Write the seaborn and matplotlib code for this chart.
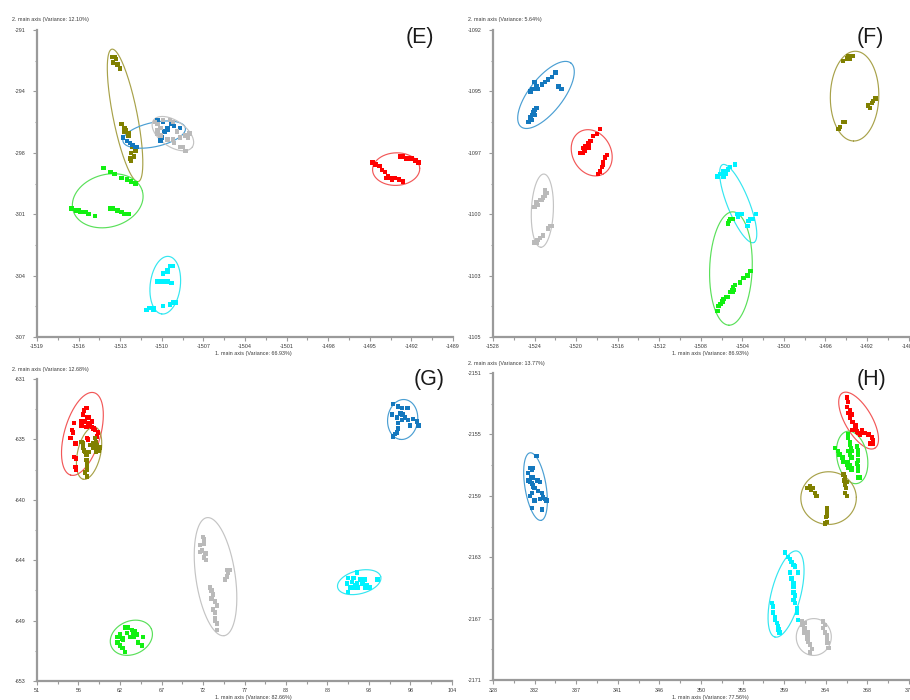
import numpy as np
import pandas as pd
import matplotlib
matplotlib.use("Agg")
import matplotlib.pyplot as plt
import seaborn as sns

# ---------------- panel E ----------------
e_olive_x = [-1513.6, -1513.4, -1513.3, -1513.5, -1513.2, -1513.0, -1512.9, -1512.7, -1512.6, -1512.4,
             -1512.7, -1512.4, -1512.2, -1512.1, -1512.0, -1512.3, -1512.2, -1511.9]
e_olive_y = [-292.4, -292.4, -292.5, -292.7, -292.8, -293.0, -295.9, -296.1, -296.2, -296.4,
             -296.3, -296.5, -297.4, -297.1, -297.6, -297.7, -297.8, -297.3]
e_blue_x = [-1512.8, -1512.5, -1512.3, -1512.1, -1511.9, -1511.8, -1510.3, -1509.9, -1509.6, -1509.3,
            -1509.1, -1508.7, -1509.8, -1510.0, -1510.1, -1509.6, -1510.1]
e_blue_y = [-296.6, -296.8, -296.9, -297.0, -297.1, -297.1, -295.7, -295.8, -296.1, -295.9,
            -296.0, -296.1, -296.3, -296.6, -296.8, -296.2, -296.6]
e_gray_x = [-1510.5, -1510.3, -1510.3, -1510.1, -1509.9, -1509.4, -1509.2, -1508.9, -1508.7, -1508.3,
            -1508.1, -1509.1, -1508.7, -1508.5, -1508.3, -1510.3, -1510.1, -1509.6, -1509.2, -1508.0]
e_gray_y = [-295.8, -295.9, -296.2, -296.1, -295.7, -295.7, -295.8, -296.3, -296.6, -296.5,
            -296.6, -296.9, -297.1, -297.1, -297.3, -296.4, -296.5, -296.7, -296.7, -296.4]
e_red_x = [-1494.8, -1494.6, -1494.3, -1494.1, -1493.9, -1493.7, -1493.5, -1493.2, -1492.9, -1492.6,
           -1492.8, -1492.6, -1492.4, -1492.2, -1492.0, -1491.7, -1491.5, -1493.8, -1493.4]
e_red_y = [-297.9, -298.0, -298.1, -298.3, -298.4, -298.6, -298.7, -298.7, -298.8, -298.9,
           -297.6, -297.6, -297.7, -297.7, -297.7, -297.8, -297.9, -298.7, -298.8]
e_green_x = [-1514.2, -1513.7, -1513.4, -1512.9, -1512.5, -1512.2, -1511.9, -1516.5, -1516.2, -1516.0,
             -1515.8, -1515.5, -1515.3, -1514.8, -1513.7, -1513.5, -1513.2, -1512.9, -1512.7, -1512.4, -1515.9]
e_green_y = [-298.2, -298.4, -298.5, -298.7, -298.8, -298.9, -299.0, -300.3, -300.4, -300.4,
             -300.5, -300.5, -300.6, -300.7, -300.3, -300.3, -300.4, -300.5, -300.6, -300.6, -300.5]
e_cyan_x = [-1509.4, -1509.2, -1509.6, -1509.6, -1509.9, -1510.3, -1510.1, -1509.8, -1509.6, -1509.3,
            -1511.1, -1510.9, -1510.6, -1510.6, -1509.9, -1509.4, -1509.2, -1509.0]
e_cyan_y = [-303.3, -303.3, -303.5, -303.6, -303.7, -304.1, -304.1, -304.1, -304.1, -304.2,
            -305.6, -305.5, -305.5, -305.6, -305.4, -305.3, -305.2, -305.2]
# confidence ellipses: major-axis end points and minor/major ratio
e_rings = {
    "olive": ((-1513.6, -292.0), (-1511.7, -298.9), 0.18),
    "blue": ((-1512.8, -296.8), (-1508.3, -296.1), 0.38),
    "gray": ((-1510.6, -295.7), (-1507.8, -297.1), 0.55),
    "red": ((-1494.8, -298.3), (-1491.4, -298.2), 0.69),
    "green": ((-1516.4, -300.4), (-1511.4, -299.4), 0.73),
    "cyan": ((-1509.5, -302.8), (-1510.0, -305.8), 0.52),
}
e_xticklabels = ["-1519", "-1516", "-1513", "-1510", "-1507", "-1504", "-1501", "-1498", "-1495", "-1492", "-1489"]
e_yticklabels = ["-291", "-294", "-298", "-301", "-304", "-307"]

# ---------------- panel F ----------------
f_blue_x = [-1524.4, -1524.2, -1524.0, -1523.8, -1523.7, -1523.3, -1523.0, -1522.7, -1522.3, -1522.0,
            -1521.7, -1521.4, -1524.4, -1524.2, -1524.1, -1524.0, -1523.8, -1524.6, -1524.3, -1524.0]
f_blue_y = [-1094.6, -1094.5, -1094.2, -1094.4, -1094.5, -1094.3, -1094.2, -1094.1, -1094.0, -1093.8,
            -1094.4, -1094.5, -1095.7, -1095.6, -1095.5, -1095.4, -1095.3, -1095.9, -1095.8, -1095.6]
f_red_x = [-1517.7, -1518.0, -1518.4, -1518.6, -1518.9, -1519.3, -1519.4, -1519.6, -1519.1, -1518.8,
           -1519.2, -1518.8, -1517.0, -1517.2, -1517.4, -1517.4, -1517.5, -1517.7, -1517.9]
f_red_y = [-1096.2, -1096.4, -1096.5, -1096.7, -1097.0, -1097.0, -1097.2, -1097.2, -1096.9, -1096.8,
           -1097.1, -1097.0, -1097.3, -1097.4, -1097.6, -1097.7, -1097.8, -1098.0, -1098.1]
f_gray_x = [-1522.8, -1523.0, -1523.2, -1523.5, -1523.8, -1524.0, -1523.7, -1523.3, -1522.5, -1522.3,
            -1522.7, -1523.2, -1523.5, -1523.8, -1524.0, -1523.7, -1523.0]
f_gray_y = [-1098.9, -1099.0, -1099.1, -1099.2, -1099.3, -1099.5, -1099.4, -1099.2, -1100.3, -1100.3,
            -1100.4, -1100.7, -1100.8, -1101.0, -1101.0, -1100.9, -1098.8]
f_olive_x = [-1494.3, -1493.9, -1493.8, -1493.6, -1493.4, -1491.7, -1491.5, -1491.4, -1491.2, -1491.9,
             -1494.8, -1494.6, -1494.3, -1494.1, -1494.7, -1493.7]
f_olive_y = [-1093.3, -1093.2, -1093.1, -1093.1, -1093.1, -1095.3, -1095.1, -1095.0, -1094.9, -1095.2,
             -1096.2, -1096.1, -1095.9, -1095.9, -1096.2, -1093.2]
f_cyan_x = [-1506.4, -1506.1, -1505.8, -1505.4, -1505.2, -1504.7, -1505.6, -1505.8, -1504.5, -1504.4,
            -1503.4, -1503.2, -1503.0, -1502.7, -1503.5, -1504.1]
f_cyan_y = [-1098.2, -1098.1, -1098.0, -1097.9, -1097.8, -1097.7, -1098.1, -1098.2, -1099.8, -1099.9,
            -1100.1, -1100.0, -1100.0, -1099.8, -1100.3, -1099.8]
f_green_x = [-1505.4, -1505.3, -1505.2, -1505.0, -1504.9, -1506.4, -1506.3, -1506.1, -1505.9, -1505.8,
             -1505.6, -1505.4, -1505.2, -1505.0, -1504.9, -1504.7, -1504.2, -1503.9, -1503.5, -1503.2,
             -1504.8, -1504.9]
f_green_y = [-1100.2, -1100.1, -1100.0, -1100.0, -1100.0, -1103.9, -1103.7, -1103.6, -1103.5, -1103.4,
             -1103.3, -1103.3, -1103.1, -1103.0, -1102.9, -1102.8, -1102.7, -1102.5, -1102.4, -1102.2,
             -1103.0, -1103.1]
f_rings = {
    "blue": ((-1525.3, -1096.1), (-1520.5, -1093.4), 0.42),
    "red": ((-1519.6, -1096.3), (-1517.4, -1098.1), 0.80),
    "gray": ((-1523.1, -1098.1), (-1523.4, -1101.2), 0.30),
    "olive": ((-1493.1, -1092.9), (-1493.3, -1096.7), 0.54),
    "cyan": ((-1505.9, -1097.7), (-1502.9, -1101.0), 0.26),
    "green": ((-1504.9, -1099.7), (-1505.3, -1104.5), 0.375),
}
f_xticklabels = ["-1528", "-1524", "-1520", "-1516", "-1512", "-1508", "-1504", "-1500", "-1496", "-1492", "-1488"]
f_yticklabels = ["-1092", "-1095", "-1097", "-1100", "-1103", "-1105"]

# ---------------- panel G ----------------
g_red_x = [57.3, 56.9, 57.4, 57.6, 56.6, 57.1, 57.5, 57.8, 58.0, 58.2, 58.4, 55.7, 55.5, 55.6, 55.3,
           55.9, 57.5, 57.4, 55.7, 56.0, 55.9, 56.0, 56.7, 57.3, 58.0, 58.8, 58.7, 57.0]
g_red_y = [-633.1, -633.6, -633.8, -633.8, -634.1, -634.1, -634.2, -634.4, -634.5, -634.6, -634.7,
           -634.2, -634.7, -634.9, -635.3, -635.7, -635.4, -635.3, -636.7, -636.8, -637.4, -637.6,
           -634.4, -634.5, -634.1, -634.9, -635.2, -633.3]
g_olive_x = [56.9, 56.9, 57.0, 57.1, 57.3, 57.3, 57.4, 57.4, 57.4, 57.1, 57.4, 56.7, 58.4, 58.5, 58.7,
             58.8, 58.7, 58.9, 59.0, 58.2, 57.8, 57.6, 58.2, 58.5]
g_olive_y = [-635.7, -636.0, -636.2, -636.3, -636.5, -636.9, -637.1, -637.3, -637.6, -637.8, -638.1,
             -635.6, -635.3, -635.6, -635.8, -636.0, -636.2, -636.2, -636.0, -636.0, -635.8, -636.3,
             -635.7, -636.3]
g_blue_x = [96.5, 97.1, 97.6, 98.3, 96.3, 97.0, 97.4, 97.7, 98.0, 98.4, 99.0, 99.5, 99.7, 97.1, 97.6,
            98.6, 97.0, 96.7, 96.5, 97.1]
g_blue_y = [-632.8, -633.0, -633.1, -633.1, -633.6, -633.8, -633.5, -633.6, -633.8, -634.0, -633.9,
            -634.1, -634.4, -634.2, -634.0, -634.4, -634.9, -635.0, -635.2, -634.6]
g_gray_x = [72.2, 72.3, 72.3, 71.8, 72.1, 71.8, 72.5, 72.3, 72.6, 75.3, 75.6, 75.4, 75.3, 75.0, 73.1,
            73.3, 73.5, 73.3, 73.7, 74.0, 73.5, 73.7, 73.7, 74.0, 73.7, 74.0]
g_gray_y = [-642.5, -642.7, -643.0, -643.1, -643.5, -643.6, -643.7, -644.0, -644.2, -644.9, -644.9,
            -645.1, -645.4, -645.6, -646.2, -646.4, -646.7, -647.0, -647.2, -647.5, -647.8, -648.0,
            -648.4, -648.8, -648.6, -649.3]
g_green_x = [62.2, 62.6, 61.6, 61.3, 61.9, 62.0, 61.2, 61.3, 61.6, 61.9, 62.2, 63.1, 63.3, 63.5, 63.8,
             63.3, 64.5, 63.9, 64.4, 62.9, 62.5, 63.4]
g_green_y = [-649.1, -649.1, -649.6, -649.8, -649.9, -650.0, -650.2, -650.2, -650.4, -650.6, -650.9,
             -649.3, -649.5, -649.4, -649.6, -649.8, -649.8, -650.2, -650.4, -649.8, -649.5, -649.5]
g_cyan_x = [91.9, 90.7, 91.4, 92.3, 92.9, 90.6, 91.2, 91.6, 92.5, 93.1, 93.5, 91.0, 91.4, 92.0, 92.9,
            93.3, 90.7, 94.5, 92.6, 91.9]
g_cyan_y = [-645.1, -645.5, -645.5, -645.6, -645.6, -645.9, -645.8, -646.0, -645.9, -646.0, -646.2,
            -646.2, -646.2, -646.2, -646.2, -646.2, -646.5, -645.6, -645.8, -645.9]
g_rings = {
    "red": ((58.3, -632.0), (55.3, -638.0), 0.42),
    "olive": ((58.4, -634.5), (56.9, -638.3), 0.43),
    "blue": ((98.0, -632.5), (97.4, -635.4), 0.75),
    "gray": ((72.7, -641.1), (74.9, -649.7), 0.33),
    "green": ((60.5, -650.5), (65.6, -649.2), 0.76),
    "cyan": ((89.4, -646.2), (94.9, -645.4), 0.52),
}
g_xticklabels = ["51", "56", "62", "67", "72", "77", "83", "88", "93", "98", "104"]
g_yticklabels = ["-631", "-635", "-640", "-644", "-649", "-653"]

# ---------------- panel H ----------------
h_blue_x = [332.7, 332.0, 332.2, 332.3, 331.8, 332.1, 332.3, 331.8, 332.0, 332.2, 332.3, 332.8, 333.1,
            332.3, 332.5, 332.9, 333.3, 333.4, 333.6, 333.8, 333.1, 332.5, 332.2, 333.3, 332.0, 332.2]
h_blue_y = [-2156.4, -2157.2, -2157.3, -2157.2, -2157.5, -2157.8, -2157.8, -2158.0, -2158.1, -2158.2,
            -2158.3, -2158.0, -2158.1, -2158.4, -2158.5, -2158.7, -2158.8, -2159.1, -2159.2, -2159.3,
            -2159.2, -2159.3, -2159.8, -2159.9, -2159.0, -2158.8]
h_red_x = [366.3, 366.4, 366.3, 366.6, 366.4, 366.8, 366.6, 366.9, 367.2, 367.2, 367.4, 367.5, 367.7,
           367.9, 368.2, 368.6, 369.0, 369.1, 369.1, 368.8, 367.9, 366.9]
h_red_y = [-2152.6, -2152.9, -2153.2, -2153.4, -2153.6, -2153.7, -2153.9, -2154.2, -2154.4, -2154.6,
           -2154.8, -2154.9, -2155.0, -2154.9, -2154.9, -2155.0, -2155.2, -2155.4, -2155.6, -2155.6,
           -2154.7, -2154.7]
h_green_x = [366.4, 366.4, 366.6, 366.6, 366.7, 366.8, 366.6, 366.8, 366.4, 366.6, 366.8, 366.4, 367.4,
             367.5, 367.5, 367.5, 367.4, 367.5, 367.5, 367.5, 367.7, 365.0, 365.3, 365.5, 365.8, 365.9,
             366.3, 366.4, 366.8]
h_green_y = [-2155.0, -2155.2, -2155.5, -2155.7, -2155.9, -2156.1, -2156.3, -2156.5, -2156.8, -2157.0,
             -2157.2, -2156.1, -2155.8, -2156.0, -2156.3, -2156.7, -2156.9, -2157.1, -2157.4, -2157.8,
             -2157.8, -2155.9, -2156.1, -2156.3, -2156.5, -2156.8, -2157.0, -2157.2, -2157.3]
h_olive_x = [362.0, 362.3, 362.6, 362.8, 363.0, 365.9, 366.1, 366.3, 366.1, 366.2, 366.1, 366.3, 364.1,
             364.1, 364.1, 364.0, 364.1, 363.9, 362.4, 366.0]
h_olive_y = [-2158.5, -2158.4, -2158.5, -2158.8, -2159.0, -2157.6, -2157.8, -2158.1, -2158.3, -2158.5,
             -2158.8, -2159.0, -2159.8, -2160.1, -2160.3, -2160.4, -2160.7, -2160.8, -2158.6, -2158.0]
h_cyan_x = [359.6, 359.9, 360.1, 360.3, 360.5, 360.7, 361.0, 360.1, 360.3, 360.5, 360.5, 360.5, 360.7,
            360.5, 360.7, 360.9, 360.9, 361.0, 358.2, 358.3, 358.3, 358.5, 358.5, 358.7, 358.8, 358.9,
            359.0]
h_cyan_y = [-2162.7, -2163.0, -2163.1, -2163.3, -2163.5, -2163.6, -2164.0, -2164.0, -2164.4, -2164.7,
            -2164.9, -2165.3, -2165.5, -2165.8, -2166.0, -2166.3, -2166.6, -2167.1, -2166.0, -2166.2,
            -2166.6, -2166.9, -2167.1, -2167.3, -2167.5, -2167.7, -2167.9]
h_gray_x = [361.4, 361.5, 361.7, 361.7, 362.0, 362.0, 362.1, 362.3, 362.5, 362.3, 363.7, 363.9, 363.7,
            363.9, 364.1, 364.1, 364.2, 364.3, 361.7, 362.1]
h_gray_y = [-2167.2, -2167.4, -2167.6, -2167.9, -2168.1, -2168.3, -2168.5, -2168.7, -2169.0, -2169.2,
            -2167.2, -2167.4, -2167.6, -2167.9, -2168.1, -2168.4, -2168.6, -2168.9, -2167.3, -2167.9]
h_rings = {
    "blue": ((332.0, -2156.2), (333.2, -2160.6), 0.31),
    "red": ((365.8, -2152.3), (369.3, -2155.9), 0.42),
    "green": ((366.3, -2154.8), (367.4, -2158.2), 0.57),
    "olive": ((361.3, -2159.2), (367.3, -2159.1), 0.95),
    "cyan": ((360.9, -2162.6), (358.5, -2168.2), 0.33),
    "gray": ((362.8, -2167.0), (362.6, -2169.4), 0.95),
}
h_xticklabels = ["328", "332", "337", "341", "346", "350", "355", "359", "364", "368", "373"]
h_yticklabels = ["-2151", "-2155", "-2159", "-2163", "-2167", "-2171"]

POINT_COLORS = {"olive": "#808000", "blue": "#1478be", "gray": "#bababa",
                "red": "#ff0000", "green": "#12f012", "cyan": "#00f2ff"}
RING_COLORS = {"olive": "#a8a24a", "blue": "#4b9fd3", "gray": "#c4c4c4",
               "red": "#f25858", "green": "#5ae05a", "cyan": "#35e6f0"}
AXIS_GRAY = "#9a9a9a"

sns.set_style("white")
plt.rcParams["font.family"] = ["Liberation Sans", "DejaVu Sans"]

W, H = 910, 700
fig = plt.figure(figsize=(W / 100, H / 100), dpi=100)
fig.patch.set_facecolor("white")


def add_frame(left, top, right, bottom):
    return fig.add_axes([left / W, 1 - bottom / H, (right - left) / W, (bottom - top) / H])


def fig_xy(x, y):
    return x / W, 1 - y / H


def draw_ring(ax, p1, p2, ratio, color):
    tr = ax.transData
    a, b = tr.transform(np.array([p1, p2]))
    c = (a + b) / 2
    u = (b - a) / 2
    v = ratio * np.array([-u[1], u[0]])
    t = np.linspace(0, 2 * np.pi, 361)
    pts = c + np.outer(np.cos(t), u) + np.outer(np.sin(t), v)
    xy = tr.inverted().transform(pts)
    ax.plot(xy[:, 0], xy[:, 1], color=color, lw=0.85, zorder=2, solid_capstyle="round")


def draw_panel(ax, groups, rings, xlim, ylim, xticklabels, yticklabels):
    ax.set_xlim(*xlim)
    ax.set_ylim(*ylim)
    ax.set_autoscale_on(False)

    for name, (p1, p2, ratio) in rings.items():
        draw_ring(ax, p1, p2, ratio, RING_COLORS[name])

    frames = [pd.DataFrame({"x": xs, "y": ys, "group": name}) for name, (xs, ys) in groups.items()]
    df = pd.concat(frames, ignore_index=True)
    sns.scatterplot(data=df, x="x", y="y", hue="group", palette=POINT_COLORS, marker="s",
                    s=10, linewidth=0, legend=False, ax=ax, zorder=3)
    ax.set_xlim(*xlim)
    ax.set_ylim(*ylim)
    ax.set_xlabel("")
    ax.set_ylabel("")

    xmaj = np.linspace(xlim[0], xlim[1], len(xticklabels))
    ymaj = np.linspace(ylim[1], ylim[0], len(yticklabels))
    ax.set_xticks(xmaj)
    ax.set_xticklabels(xticklabels)
    ax.set_yticks(ymaj)
    ax.set_yticklabels(yticklabels)
    ax.set_xticks((xmaj[:-1] + xmaj[1:]) / 2, minor=True)
    ax.set_yticks((ymaj[:-1] + ymaj[1:]) / 2, minor=True)

    for side in ("top", "right"):
        ax.spines[side].set_visible(False)
    for side in ("left", "bottom"):
        ax.spines[side].set_color(AXIS_GRAY)
        ax.spines[side].set_linewidth(1.6)
    ax.tick_params(which="both", bottom=True, left=True, direction="out",
                   color=AXIS_GRAY, width=0.8, labelsize=3.9, labelcolor="#3a3a3a")
    ax.tick_params(which="major", length=2.8)
    ax.tick_params(which="minor", length=1.8)
    ax.tick_params(axis="x", which="major", pad=2.6)
    ax.tick_params(axis="y", which="major", pad=5.5)
    ax.set_facecolor("white")


panels = [
    dict(frame=(37, 30, 453, 337),
         groups={"olive": (e_olive_x, e_olive_y), "blue": (e_blue_x, e_blue_y),
                 "gray": (e_gray_x, e_gray_y), "red": (e_red_x, e_red_y),
                 "green": (e_green_x, e_green_y), "cyan": (e_cyan_x, e_cyan_y)},
         rings=e_rings, xlim=(-1519, -1489), ylim=(-307, -291),
         xt=e_xticklabels, yt=e_yticklabels,
         ylab="2. main axis (Variance: 12.10%)", ylab_at=(12, 20),
         xlab="1. main axis (Variance: 66.93%)", xlab_at=(253, 354),
         tag="(E)", tag_at=(420, 37)),
    dict(frame=(493, 30, 908.6, 337),
         groups={"blue": (f_blue_x, f_blue_y), "red": (f_red_x, f_red_y),
                 "gray": (f_gray_x, f_gray_y), "olive": (f_olive_x, f_olive_y),
                 "cyan": (f_cyan_x, f_cyan_y), "green": (f_green_x, f_green_y)},
         rings=f_rings, xlim=(-1528, -1488), ylim=(-1105, -1092),
         xt=f_xticklabels, yt=f_yticklabels,
         ylab="2. main axis (Variance: 5.64%)", ylab_at=(468, 20),
         xlab="1. main axis (Variance: 86.93%)", xlab_at=(710, 354),
         tag="(F)", tag_at=(870, 37)),
    dict(frame=(37, 379, 452, 681),
         groups={"red": (g_red_x, g_red_y), "olive": (g_olive_x, g_olive_y),
                 "blue": (g_blue_x, g_blue_y), "gray": (g_gray_x, g_gray_y),
                 "green": (g_green_x, g_green_y), "cyan": (g_cyan_x, g_cyan_y)},
         rings=g_rings, xlim=(51, 104), ylim=(-653, -631),
         xt=g_xticklabels, yt=g_yticklabels,
         ylab="2. main axis (Variance: 12.68%)", ylab_at=(12, 369),
         xlab="1. main axis (Variance: 82.66%)", xlab_at=(253, 697),
         tag="(G)", tag_at=(429, 379)),
    dict(frame=(493, 373, 909, 680),
         groups={"blue": (h_blue_x, h_blue_y), "red": (h_red_x, h_red_y),
                 "green": (h_green_x, h_green_y), "olive": (h_olive_x, h_olive_y),
                 "cyan": (h_cyan_x, h_cyan_y), "gray": (h_gray_x, h_gray_y)},
         rings=h_rings, xlim=(328, 373), ylim=(-2171, -2151),
         xt=h_xticklabels, yt=h_yticklabels,
         ylab="2. main axis (Variance: 13.77%)", ylab_at=(468, 363),
         xlab="1. main axis (Variance: 77.56%)", xlab_at=(710.5, 697),
         tag="(H)", tag_at=(871, 380)),
]

for p in panels:
    ax = add_frame(*p["frame"])
    draw_panel(ax, p["groups"], p["rings"], p["xlim"], p["ylim"], p["xt"], p["yt"])
    fig.text(*fig_xy(*p["ylab_at"]), p["ylab"], ha="left", va="center", fontsize=3.9, color="#3a3a3a")
    fig.text(*fig_xy(*p["xlab_at"]), p["xlab"], ha="center", va="center", fontsize=3.9, color="#3a3a3a")
    fig.text(*fig_xy(*p["tag_at"]), p["tag"], ha="center", va="center", fontsize=15.5, color="#1a1a1a")

fig.savefig("out.png", dpi=100, facecolor="white")
